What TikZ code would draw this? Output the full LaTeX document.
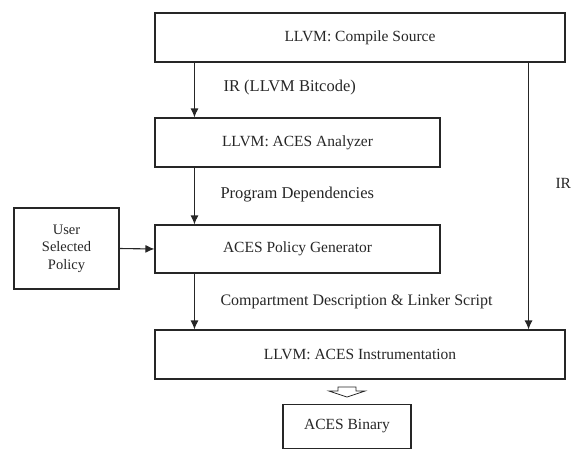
\documentclass[tikz,border=0pt]{standalone}
\usepackage{fontspec}
\setmainfont{Liberation Serif}
\usetikzlibrary{arrows.meta}

\begin{document}
\begin{tikzpicture}[x=1pt, y=-1pt, line width=1.1pt,
  every node/.style={font=\fontsize{15.5}{17.5}\selectfont, text=black!85},
  stage/.style={draw=black!85, rectangle, inner sep=0pt},
  flowlabel/.style={anchor=west, inner sep=0pt, font=\fontsize{16.5}{18}\selectfont},
  flow/.style={draw=black!85, -{Latex[length=9pt, width=8pt]}}]

\useasboundingbox (0,0) rectangle (572,450);

% Define the coordinates for the centres of the boxes
\coordinate (c-compile) at (360,37.5);
\coordinate (c-analyzer) at (297.5,142.5);
\coordinate (c-policygen) at (297.5,249);
\coordinate (c-user) at (66.5,248.5);
\coordinate (c-instr) at (360,354.5);
\coordinate (c-binary) at (347,426.5);

% Place the boxes
\node[stage, minimum width=410, minimum height=49] (compile) at (c-compile) {LLVM: Compile Source};
\node[stage, minimum width=285, minimum height=49] (analyzer) at (c-analyzer) {LLVM: ACES Analyzer};
\node[stage, minimum width=285, minimum height=48] (policygen) at (c-policygen) {ACES Policy Generator};
\node[stage, minimum width=105, minimum height=81, align=center, font=\fontsize{14.5}{17.5}\selectfont] (user) at (c-user) {User\\Selected\\Policy};
\node[stage, minimum width=410, minimum height=49] (instr) at (c-instr) {LLVM: ACES Instrumentation};
\node[stage, minimum width=128, minimum height=44] (binary) at (c-binary) {ACES Binary};

% Draw the flow between the boxes
\draw[flow] ([xshift=40pt]compile.south west) -- ([xshift=40pt]analyzer.north west);
\draw[flow] ([xshift=40pt]analyzer.south west) -- ([xshift=40pt]policygen.north west);
\draw[flow] ([xshift=40pt]policygen.south west) -- ([xshift=40pt]instr.north west);
\draw[flow] ([xshift=-37pt]compile.south east) -- ([xshift=-37pt]instr.north east);
\draw[flow] (user.east) -- (policygen.west);

% Hollow arrow to the binary
\draw[draw=black!85, line width=0.8pt, shift={(347,387)}]
  (-9,0) -- (9,0) -- (9,4) -- (18,4) -- (0,10) -- (-18,4) -- (-9,4) -- cycle;

% Labels on the flow
\node[flowlabel] (l-bitcode) at (223,88) {IR (LLVM Bitcode)};
\node[flowlabel] (l-deps) at (220,195) {Program Dependencies};
\node[flowlabel, font=\fontsize{16}{18}\selectfont] (l-compart) at (220,302) {Compartment Description \& Linker Script};
\node[flowlabel, font=\fontsize{15.5}{17.5}\selectfont] (l-ir) at (555,183) {IR};

\end{tikzpicture}
\end{document}
